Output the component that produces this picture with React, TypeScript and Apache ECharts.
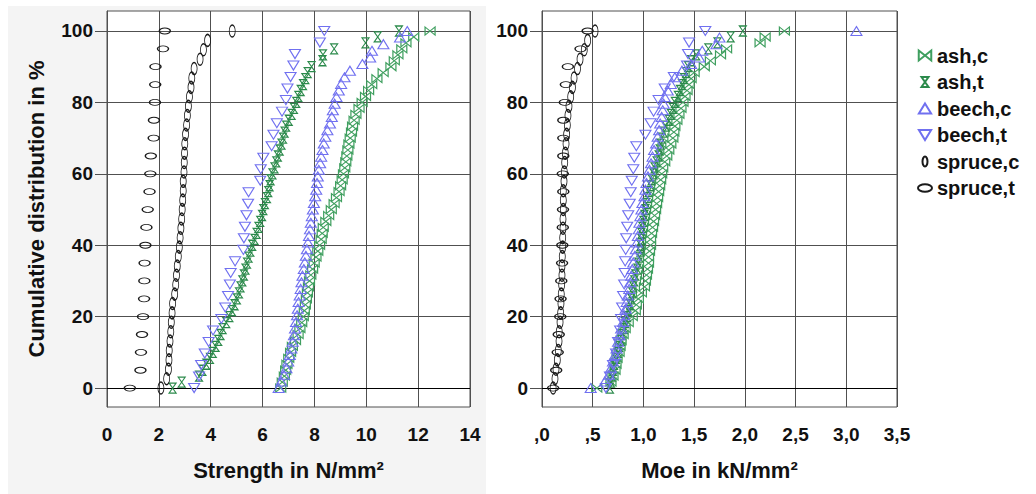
import React, { useEffect, useRef } from "react";
import * as echarts from "echarts";

// ---- Data (x-values, ordered by rank; y = cumulative percent rank) ----
const strengthAshC = [6.70,6.76,6.84,6.89,6.94,7.01,7.08,7.15,7.27,7.37,7.44,7.51,7.57,7.61,7.65,7.69,7.73,7.77,7.81,7.86,7.93,7.99,8.06,8.13,8.20,8.26,8.30,8.34,8.44,8.55,8.65,8.76,8.85,8.95,9.01,9.07,9.12,9.17,9.21,9.25,9.29,9.33,9.38,9.43,9.47,9.53,9.60,9.72,9.84,9.97,10.09,10.21,10.41,10.65,10.95,11.08,11.22,11.37,11.53,11.83,12.46];
const strengthAshT = [2.53,2.88,3.55,3.68,3.83,3.97,4.08,4.19,4.29,4.38,4.46,4.60,4.72,4.82,4.92,5.01,5.09,5.15,5.22,5.28,5.34,5.40,5.46,5.53,5.60,5.69,5.77,5.84,5.91,5.98,6.03,6.09,6.17,6.22,6.27,6.31,6.38,6.46,6.53,6.59,6.66,6.73,6.79,6.85,6.91,7.01,7.12,7.21,7.30,7.38,7.47,7.56,7.65,7.74,7.89,8.31,8.33,8.76,9.97,10.44,11.26];
const strengthBeechC = [6.62,6.72,6.83,6.92,6.99,7.05,7.11,7.16,7.21,7.25,7.29,7.33,7.36,7.39,7.43,7.47,7.50,7.54,7.59,7.63,7.67,7.71,7.75,7.79,7.83,7.86,7.90,7.94,7.98,8.03,8.07,8.10,8.13,8.17,8.22,8.26,8.31,8.36,8.42,8.50,8.60,8.67,8.71,8.78,8.85,8.94,9.03,9.16,9.37,9.85,10.15,10.22,10.66,11.30,11.58];
const strengthBeechT = [3.36,3.55,3.63,3.77,3.92,4.09,4.41,4.56,4.67,4.74,4.77,4.94,5.26,5.28,5.32,5.38,5.44,5.46,5.91,5.93,6.03,6.35,6.42,6.55,6.75,6.90,6.96,7.08,7.19,7.25,8.21,8.38];
const strengthSpruceC = [2.08,2.30,2.37,2.39,2.40,2.43,2.46,2.48,2.51,2.53,2.61,2.65,2.68,2.71,2.75,2.79,2.82,2.85,2.88,2.90,2.92,2.94,2.94,2.97,2.98,2.99,3.00,3.03,3.07,3.10,3.14,3.18,3.24,3.27,3.36,3.59,3.72,3.88,4.83];
const strengthSpruceT = [0.88,1.29,1.31,1.35,1.39,1.43,1.44,1.45,1.48,1.52,1.57,1.64,1.67,1.69,1.80,1.81,1.85,1.86,1.87,2.16,2.23];

const moeAshC = [0.54,0.68,0.70,0.72,0.73,0.74,0.76,0.77,0.78,0.80,0.82,0.85,0.89,0.92,0.93,0.95,0.98,1.01,1.02,1.03,1.04,1.05,1.05,1.06,1.07,1.07,1.08,1.09,1.10,1.11,1.12,1.13,1.14,1.15,1.16,1.17,1.18,1.19,1.21,1.23,1.25,1.27,1.29,1.30,1.31,1.33,1.35,1.37,1.39,1.41,1.43,1.45,1.47,1.50,1.60,1.66,1.76,1.82,2.15,2.20,2.39];
const moeAshT = [0.67,0.68,0.69,0.70,0.71,0.73,0.75,0.76,0.78,0.79,0.81,0.82,0.84,0.85,0.87,0.88,0.89,0.90,0.91,0.92,0.94,0.95,0.96,0.97,0.97,0.98,0.98,0.99,1.00,1.01,1.02,1.03,1.04,1.05,1.07,1.08,1.10,1.11,1.13,1.15,1.16,1.17,1.18,1.20,1.22,1.25,1.27,1.29,1.31,1.34,1.36,1.38,1.40,1.42,1.44,1.47,1.52,1.64,1.73,1.86,1.98];
const moeBeechC = [0.48,0.62,0.66,0.68,0.70,0.72,0.735,0.75,0.765,0.78,0.80,0.81,0.825,0.835,0.845,0.86,0.87,0.88,0.89,0.90,0.915,0.925,0.935,0.945,0.955,0.96,0.97,0.98,0.99,1.01,1.02,1.03,1.045,1.06,1.075,1.09,1.105,1.125,1.14,1.155,1.165,1.18,1.19,1.20,1.21,1.24,1.27,1.31,1.38,1.47,1.55,1.58,1.72,1.75,3.10];
const moeBeechT = [0.63,0.67,0.70,0.73,0.75,0.77,0.78,0.79,0.80,0.81,0.815,0.82,0.825,0.83,0.84,0.85,0.865,0.875,0.885,0.90,0.91,0.93,1.02,1.07,1.10,1.15,1.21,1.30,1.43,1.44,1.45,1.61];
const moeSpruceC = [0.11,0.128,0.138,0.151,0.161,0.168,0.17,0.178,0.184,0.187,0.19,0.194,0.197,0.197,0.2,0.204,0.204,0.207,0.207,0.21,0.21,0.21,0.217,0.22,0.224,0.23,0.237,0.243,0.25,0.256,0.266,0.283,0.30,0.316,0.35,0.375,0.417,0.45,0.523];
const moeSpruceT = [0.11,0.14,0.155,0.165,0.18,0.183,0.19,0.198,0.20,0.205,0.207,0.21,0.205,0.21,0.21,0.21,0.225,0.235,0.255,0.38,0.45];

const seriesNames = ["ash,c", "ash,t", "beech,c", "beech,t", "spruce,c", "spruce,t"];
const strengthTicks = [0, 2, 4, 6, 8, 10, 12, 14];
const moeTicks = [0, 0.5, 1, 1.5, 2, 2.5, 3, 3.5];
const percentTicks = [0, 20, 40, 60, 80, 100];

// cumulative distribution in % from ranked values
const ecdf = (xs: number[]) => xs.map((x, i) => [x, (i / (xs.length - 1)) * 100]);

const GREEN_C = "#3f9f5f";
const GREEN_T = "#2b8a4b";
const BLUE = "#7070f0";
const BLACK = "#1a1a1a";

const styles: Record<string, { symbol: string; size: number[]; color: string }> = {
  "ash,c": { symbol: "path://M0,0L10,8L10,0L0,8Z", size: [10, 8], color: GREEN_C },
  "ash,t": { symbol: "path://M0,0L7,0L0,10L7,10Z", size: [7, 10], color: GREEN_T },
  "beech,c": { symbol: "path://M5.5,0L11,9L0,9Z", size: [11, 9], color: BLUE },
  "beech,t": { symbol: "path://M0,0L11,0L5.5,9Z", size: [11, 9], color: BLUE },
  "spruce,c": { symbol: "path://M0,6A3,6,0,1,1,6,6A3,6,0,1,1,0,6Z", size: [6, 12], color: BLACK },
  "spruce,t": { symbol: "path://M0,3A5.5,3,0,1,1,11,3A5.5,3,0,1,1,0,3Z", size: [11, 6], color: BLACK },
};

const strengthData: Record<string, number[]> = {
  "ash,c": strengthAshC, "ash,t": strengthAshT, "beech,c": strengthBeechC,
  "beech,t": strengthBeechT, "spruce,c": strengthSpruceC, "spruce,t": strengthSpruceT,
};
const moeData: Record<string, number[]> = {
  "ash,c": moeAshC, "ash,t": moeAshT, "beech,c": moeBeechC,
  "beech,t": moeBeechT, "spruce,c": moeSpruceC, "spruce,t": moeSpruceT,
};

const FONT = "'Liberation Sans', Arial, sans-serif";
const GRID_COLOR = "#505050";

function makeSeries(name: string, xs: number[], gridIdx: number, withZeroLine: boolean) {
  const st = styles[name];
  const s: any = {
    type: "scatter",
    name,
    xAxisIndex: gridIdx,
    yAxisIndex: gridIdx,
    data: ecdf(xs),
    symbol: st.symbol,
    symbolSize: st.size,
    itemStyle: { color: "rgba(0,0,0,0)", borderColor: st.color, borderWidth: 1.1, opacity: 1 },
    emphasis: { disabled: true },
    z: 3,
  };
  if (withZeroLine) {
    s.markLine = {
      silent: true,
      symbol: ["none", "none"],
      label: { show: false },
      lineStyle: { color: "#000", type: "solid", width: 1.2 },
      data: [{ yAxis: 0 }],
      z: 2,
    };
  }
  return s;
}

function xAxisOpt(gridIndex: number, max: number, interval: number, name: string, fmt: (v: number) => string, ticks: number[]) {
  return {
    type: "value",
    gridIndex,
    min: 0,
    max,
    interval,
    name,
    nameLocation: "middle",
    nameGap: 52,
    nameTextStyle: { fontFamily: FONT, fontSize: 22, fontWeight: "bold", color: "#111" },
    axisLine: { show: true, lineStyle: { color: GRID_COLOR, width: 1 } },
    axisTick: { show: true, length: 13, inside: false, lineStyle: { color: GRID_COLOR }, customValues: ticks },
    axisLabel: { fontFamily: FONT, fontSize: 19, fontWeight: "bold", color: "#111", margin: 18, formatter: fmt, customValues: ticks },
    splitLine: { show: true, lineStyle: { color: GRID_COLOR, width: 1 } },
  };
}

function yAxisOpt(gridIndex: number, name: string) {
  return {
    type: "value",
    gridIndex,
    min: -5.3,
    max: 105.6,
    name,
    nameLocation: "middle",
    nameGap: 60,
    nameTextStyle: { fontFamily: FONT, fontSize: 22, fontWeight: "bold", color: "#111" },
    axisLine: { show: true, lineStyle: { color: GRID_COLOR, width: 1 } },
    axisTick: { show: true, length: 12, lineStyle: { color: GRID_COLOR }, customValues: percentTicks },
    axisLabel: {
      fontFamily: FONT, fontSize: 19, fontWeight: "bold", color: "#111", margin: 14,
      customValues: percentTicks,
      formatter: (v: number) => (Math.abs(v % 20) < 1e-6 ? String(v) : ""),
    },
    splitLine: { show: true, lineStyle: { color: GRID_COLOR, width: 1 } },
  };
}

const moeFmt = (v: number) => {
  const s = v.toFixed(1).replace(".", ",");
  return s.startsWith("0,") ? s.slice(1) : s;
};

export default function App() {
  const ref = useRef<HTMLDivElement>(null);
  useEffect(() => {
    if (!ref.current) return;
    const chart = echarts.init(ref.current, undefined, { renderer: "svg" });
    const series: any[] = [];
    seriesNames.forEach((n, i) => series.push(makeSeries(n, strengthData[n], 0, i === 0)));
    seriesNames.forEach((n, i) => series.push(makeSeries(n, moeData[n], 1, i === 0)));
    chart.setOption({
      animation: false,
      backgroundColor: "#fff",
      textStyle: { fontFamily: FONT },
      graphic: [
        { type: "rect", z: -10, silent: true, shape: { x: 8, y: 6, width: 478, height: 488 }, style: { fill: "#f4f4f4" } },
      ],
      grid: [
        { left: 107, top: 11, width: 363, height: 396, show: true, backgroundColor: "#fff", borderColor: GRID_COLOR, borderWidth: 1 },
        { left: 542, top: 11, width: 355, height: 396, show: true, backgroundColor: "#fff", borderColor: GRID_COLOR, borderWidth: 1 },
      ],
      xAxis: [
        xAxisOpt(0, 14, 2, "Strength in N/mm²", (v: number) => String(v), strengthTicks),
        xAxisOpt(1, 3.5, 0.5, "Moe in kN/mm²", moeFmt, moeTicks),
      ],
      yAxis: [yAxisOpt(0, "Cumulative distribution in %"), yAxisOpt(1, "")],
      legend: {
        orient: "vertical",
        left: 912,
        top: 40,
        itemWidth: 14,
        itemHeight: 10,
        itemGap: 5.5,
        symbolKeepAspect: true,
        data: seriesNames,
        textStyle: { fontFamily: FONT, fontSize: 20, fontWeight: "bold", color: "#111", lineHeight: 21 },
        selectedMode: false,
      },
      series,
    });
    return () => chart.dispose();
  }, []);
  return <div ref={ref} style={{ position: "fixed", left: 0, top: 0, width: 1036, height: 494 }} />;
}
